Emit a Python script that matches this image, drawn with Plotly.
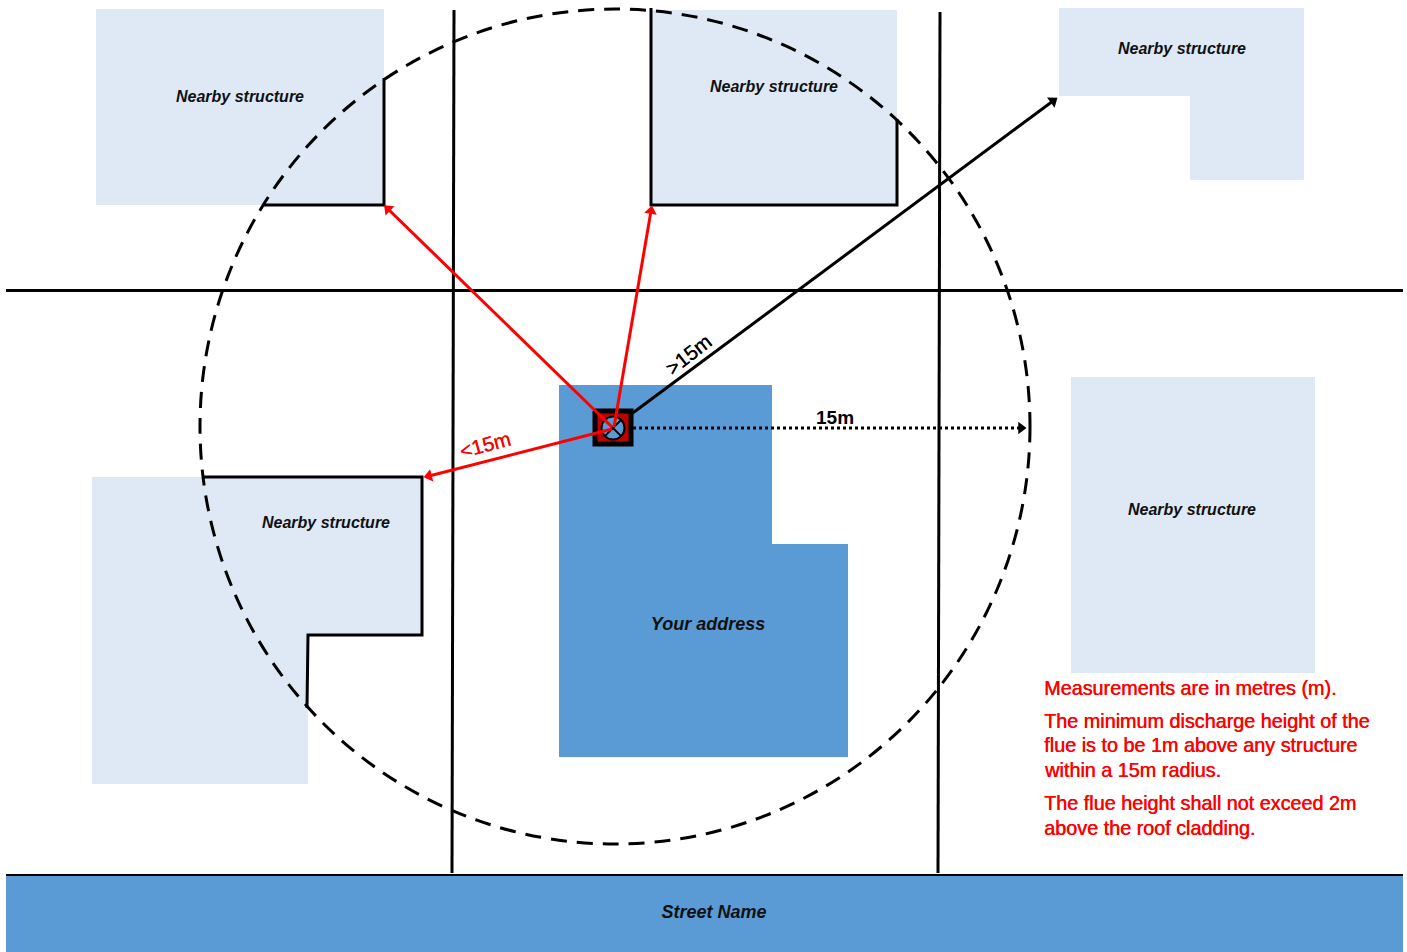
import math
import plotly.graph_objects as go

W, H = 1407, 952
LIGHT = "#DEE9F5"
BLUE = "#5B9BD5"
RED = "#FF0000"
FONT = "Liberation Sans"

# Footprints (x, y in picture units)
structure_tl = ([96, 384, 384, 96], [9, 9, 205, 205])
structure_tc = ([651, 897, 897, 651], [10, 10, 205, 205])
structure_tr = ([1059, 1304, 1304, 1190, 1190, 1059], [8, 8, 180, 180, 96, 96])
structure_r = ([1071, 1315, 1315, 1071], [377, 377, 673, 673])
structure_bl = ([92, 422, 422, 308, 308, 92], [477, 477, 635, 635, 784, 784])
house = ([559, 772, 772, 848, 848, 559], [385, 385, 544, 544, 757, 757])
street = ([6, 1403, 1403, 6], [875, 875, 952, 952])

# Black outlines
outline_tl = ([384, 384, 263], [78, 205, 205])
outline_tc = ([651, 651, 897, 897], [8, 205, 205, 119])
outline_bl = ([204, 422, 422, 308, 307], [477, 477, 635, 635, 708])

# Grid lines
road_h = ([6, 1403], [290.5, 290.5])
road_v1 = ([454, 452], [10, 873])
road_v2 = ([940, 938], [12, 873])
street_edge = ([6, 1403], [875, 875])

# Arrows
arrow_tl = ([612, 388], [427, 209])
arrow_tc = ([614, 651], [427, 211])
arrow_l = ([612, 429], [429, 476])
arrow_far = ([630, 1053], [415, 101])
arrow_dot = ([633, 1021], [428, 428])

# Circle extents
radius_x = [200, 1030]
radius_y = [9, 844]

# Flue symbol
flue_box = ([595, 631, 631, 595, 595], [411, 411, 444, 444, 411])
flue_x = [613]
flue_y = [428]

# Labels
labels = ["Nearby structure"] * 5 + ["Your address", "Street Name"]
label_x = [240, 774, 1182, 1192, 326, 708, 714]
label_y = [98, 88, 50, 511, 524, 625, 913]
label_size = [16, 16, 16, 16, 16, 18, 18]

notes = [
    ("Measurements are in metres (m).", 688),
    ("The minimum discharge height of the", 721),
    ("flue is to be 1m above any structure", 745),
    ("within a 15m radius.", 770),
    ("The flue height shall not exceed 2m", 803),
    ("above the roof cladding.", 828),
]
note_x = 1042

fig = go.Figure()


def fill(poly, color):
    fig.add_trace(go.Scatter(x=poly[0], y=poly[1], mode="lines", fill="toself",
                             fillcolor=color, line=dict(width=0), hoverinfo="skip"))


def line(poly, color="black", width=3, dash="solid"):
    fig.add_trace(go.Scatter(x=poly[0], y=poly[1], mode="lines",
                             line=dict(color=color, width=width, dash=dash), hoverinfo="skip"))


def _angle(poly):
    dx = poly[0][1] - poly[0][0]
    dy = poly[1][1] - poly[1][0]
    return math.degrees(math.atan2(dx, -dy))


def arrow(poly, color, width=3, dash="solid", size=11):
    line(poly, color, width, dash)
    fig.add_trace(go.Scatter(x=poly[0][1:], y=poly[1][1:], mode="markers",
                             marker=dict(symbol="triangle-up", size=size, color=color,
                                         angle=[_angle(poly)]), hoverinfo="skip"))


for p in (structure_tl, structure_tc, structure_tr, structure_r, structure_bl):
    fill(p, LIGHT)
fill(house, BLUE)
fill(street, BLUE)

for p in (road_h, road_v1, road_v2):
    line(p, width=3)
line(street_edge, width=2)
for p in (outline_tl, outline_tc, outline_bl):
    line(p, width=3)

# Flue symbol
fill(flue_box, "#C00000")
line(flue_box, width=5)
fig.add_trace(go.Scatter(x=flue_x, y=flue_y, mode="markers", hoverinfo="skip",
                         marker=dict(symbol="circle-x", size=23, color=BLUE,
                                     line=dict(color="black", width=2))))

arrow(arrow_far, "black", 3)
arrow(arrow_tl, RED, 3)
arrow(arrow_tc, RED, 3)
arrow(arrow_l, RED, 3)
arrow(arrow_dot, "black", 3, "dot")

fig.add_shape(type="circle", x0=radius_x[0], x1=radius_x[1], y0=radius_y[0], y1=radius_y[1],
              line=dict(color="black", width=3, dash="16px,10px"), layer="above")

fig.add_trace(go.Scatter(x=label_x, y=label_y, mode="text", text=labels, hoverinfo="skip",
                         textposition="middle center",
                         textfont=dict(family=FONT, size=label_size, color="#111111",
                                       style="italic", weight="bold")))

for txt, y in notes:
    fig.add_annotation(x=note_x, y=y, text=txt, showarrow=False, xanchor="left", yanchor="middle",
                       font=dict(family=FONT, size=19.8, color=RED, shadow="0.5px 0 0 #FF0000"),
                       align="left")

fig.add_annotation(x=814, y=417, text="<b>15m</b>", showarrow=False, xanchor="left",
                   font=dict(family=FONT, size=19, color="black"))
fig.add_annotation(x=688, y=354, text=">15m", showarrow=False, textangle=-38,
                   font=dict(family=FONT, size=20.5, color="black", shadow="0.3px 0 0 #000000"))
fig.add_annotation(x=485, y=444, text="<15m", showarrow=False, textangle=-15,
                   font=dict(family=FONT, size=20.5, color=RED, shadow="0.3px 0 0 #FF0000"))

fig.update_layout(
    width=W, height=H, margin=dict(l=0, r=0, t=0, b=0), showlegend=False,
    plot_bgcolor="white", paper_bgcolor="white",
    xaxis=dict(range=[0, W], visible=False, fixedrange=True),
    yaxis=dict(range=[H, 0], visible=False, fixedrange=True),
)
fig.write_html("out.html", config={"displayModeBar": False},
               post_script="document.body.style.margin='0';")
